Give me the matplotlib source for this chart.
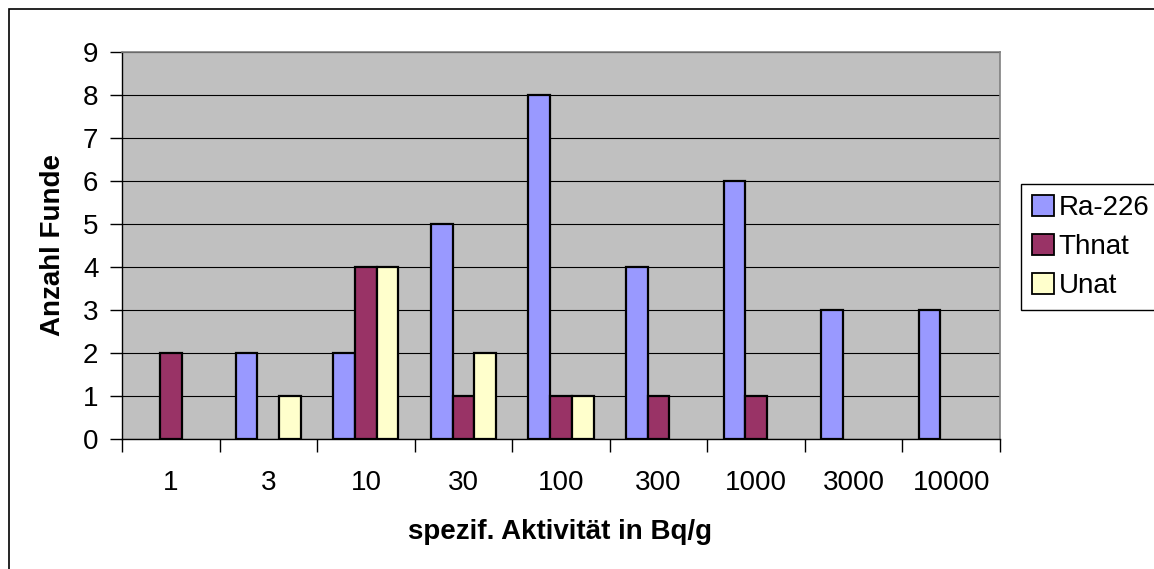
import numpy as np
import matplotlib.pyplot as plt
from matplotlib.patches import Rectangle

plt.rcParams['font.family'] = ['Liberation Sans', 'DejaVu Sans']

categories = ['1', '3', '10', '30', '100', '300', '1000', '3000', '10000']
series_names = ['Ra-226', 'Thnat', 'Unat']
ra226 = [0, 2, 2, 5, 8, 4, 6, 3, 3]
thnat = [2, 0, 4, 1, 1, 1, 1, 0, 0]
unat = [0, 1, 4, 2, 1, 0, 0, 0, 0]
colors = ['#9999FF', '#993366', '#FFFFCC']

W, H = 1154, 569
FS = 20
fig = plt.figure(figsize=(W / 100, H / 100), dpi=100)
ax = fig.add_axes([122 / W, 1 - 439 / H, (1000 - 122) / W, (439 - 52) / H])

# Outer chart border (Excel style), partly cut off by the image edge
fig.patches.append(Rectangle((9 / W, -0.1), 2.0, 1 - 9 / H + 0.1,
                             transform=fig.transFigure, fill=False,
                             edgecolor='black', linewidth=1.2))

ax.set_facecolor('#C0C0C0')
x = np.arange(len(categories))
w = 1 / 4.5  # Excel gap width 150 %
for i, (vals, name, col) in enumerate(zip([ra226, thnat, unat],
                                          series_names, colors)):
    vals = np.array(vals)
    pos = x + (i - 1) * w
    nz = vals > 0
    ax.bar(pos[nz], vals[nz], width=w, color=col, edgecolor='black',
           linewidth=1.6, zorder=3)
    # proxy for the legend
    ax.bar([0], [0], width=0, color=col, edgecolor='black', linewidth=1.3,
           label=name)

ax.set_xlim(-0.5, len(categories) - 0.5)
ax.set_ylim(0, 9)
ax.set_yticks(range(10))
ax.yaxis.grid(True, color='black', linewidth=0.8, zorder=0)
ax.set_axisbelow(True)

ax.set_xticks(np.arange(len(categories) + 1) - 0.5, minor=False)
ax.set_xticklabels([])
ax.set_xticks(x, minor=True)
ax.set_xticklabels(categories, minor=True)
ax.tick_params(axis='x', which='major', direction='out', length=9,
               width=1, color='black')
ax.tick_params(axis='x', which='minor', length=0, pad=22, labelsize=FS)
ax.tick_params(axis='y', direction='out', length=9, width=1, labelsize=FS,
               pad=8)

for side in ['top', 'right']:
    ax.spines[side].set_color('#808080')
    ax.spines[side].set_linewidth(1.2)
for side in ['left', 'bottom']:
    ax.spines[side].set_color('black')
    ax.spines[side].set_linewidth(1.0)

fig.text(53 / W, 1 - 245 / H, 'Anzahl Funde', rotation=90, ha='center',
         va='center', fontsize=FS, fontweight='bold')
fig.text(560 / W, 1 - 532 / H, 'spezif. Aktivität in Bq/g', ha='center',
         va='center', fontsize=FS, fontweight='bold')

leg = fig.legend(loc='upper left', bbox_to_anchor=(1021 / W, 1 - 184 / H),
                 bbox_transform=fig.transFigure, fontsize=FS, frameon=True,
                 fancybox=False, edgecolor='black', framealpha=1,
                 handlelength=0.8, handleheight=0.8, handletextpad=0.15,
                 borderpad=0.4, labelspacing=0.45, borderaxespad=0)
leg.get_frame().set_linewidth(1.0)

fig.savefig('out.png', dpi=100)
